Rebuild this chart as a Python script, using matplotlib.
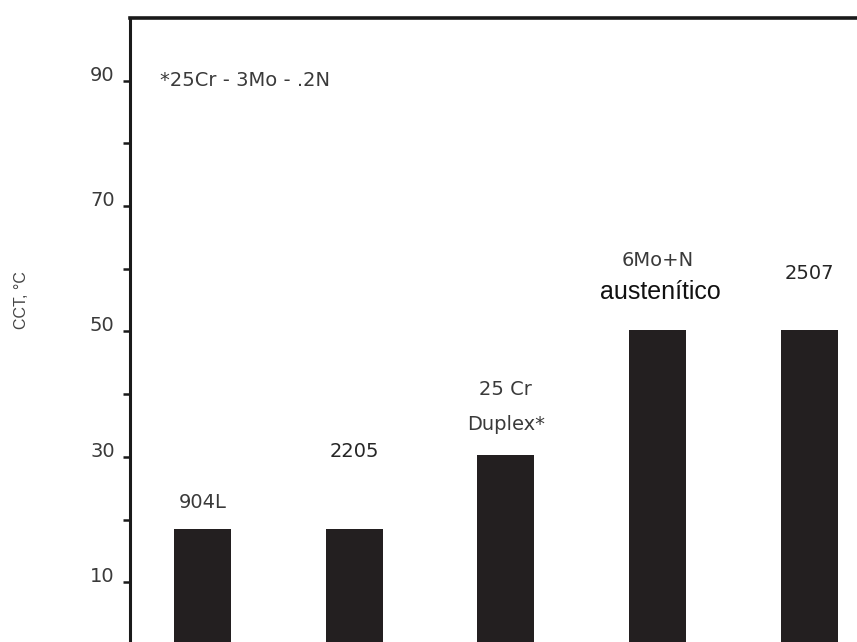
import matplotlib
matplotlib.use("Agg")
import matplotlib.pyplot as plt

categories = ["904L", "2205", "25 Cr\nDuplex*", "6Mo+N", "2507"]
values = [18.5, 18.5, 30.3, 50.3, 50.3]
yticks = [10, 20, 30, 40, 50, 60, 70, 80, 90]
ytick_labels = ["10", "", "30", "", "50", "", "70", "", "90"]
note = "*25Cr - 3Mo - .2N"
ylabel = "CCT, °C"

W, H = 857, 642
fig = plt.figure(figsize=(W / 100, H / 100), dpi=100)
fig.patch.set_facecolor("white")

left_px, top_px, bottom_px = 130, 18, 645
xmin, xmax = -0.478, 4.6
step_px = 151.7
width_px = (xmax - xmin) * step_px
ax = fig.add_axes([left_px / W, (H - bottom_px) / H, width_px / W, (bottom_px - top_px) / H])

x = list(range(len(values)))
ax.bar(x, values, width=0.376, color="#231f20", edgecolor="none")
ax.set_xlim(xmin, xmax)
ax.set_ylim(0, 100)

for s in ["right", "bottom"]:
    ax.spines[s].set_visible(False)
ax.spines["left"].set_linewidth(2.2)
ax.spines["top"].set_linewidth(2.6)
for s in ["left", "top"]:
    ax.spines[s].set_color("#1a1a1a")

ax.set_xticks([])
ax.set_yticks(yticks)
ax.set_yticklabels(ytick_labels, family="DejaVu Sans", fontsize=14, color="#3a3a3a")
ax.tick_params(axis="y", direction="out", length=5, width=1.8, color="#1a1a1a", pad=6)
for lab in ax.get_yticklabels():
    lab.set_va("baseline")

gray = "#3a3a3a"
dark = "#262626"
fs = 14
ax.text(0, 22.8, "904L", ha="center", va="center", fontsize=fs, color=gray, family="DejaVu Sans")
ax.text(1, 30.9, "2205", ha="center", va="center", fontsize=fs, color=dark, family="DejaVu Sans")
ax.text(2, 40.7, "25 Cr", ha="center", va="center", fontsize=fs, color=gray, family="DejaVu Sans")
ax.text(2, 35.2, "Duplex*", ha="center", va="center", fontsize=fs, color=gray, family="DejaVu Sans")
ax.text(3, 61.4, "6Mo+N", ha="center", va="center", fontsize=fs, color=gray, family="DejaVu Sans")
ax.text(3.02, 56.3, "austenítico", ha="center", va="center", fontsize=18, color="#111111", family="Liberation Sans")
ax.text(4, 59.2, "2507", ha="center", va="center", fontsize=fs, color=dark, family="DejaVu Sans")
ax.text(-0.28, 90.1, note, ha="left", va="center", fontsize=fs, color=gray, family="DejaVu Sans")

fig.text(22 / W, 1 - 300 / H, ylabel, rotation=90, ha="center", va="center", fontsize=11.5, color="#444444", family="Liberation Sans")

fig.savefig("out.png", dpi=100, facecolor="white")
